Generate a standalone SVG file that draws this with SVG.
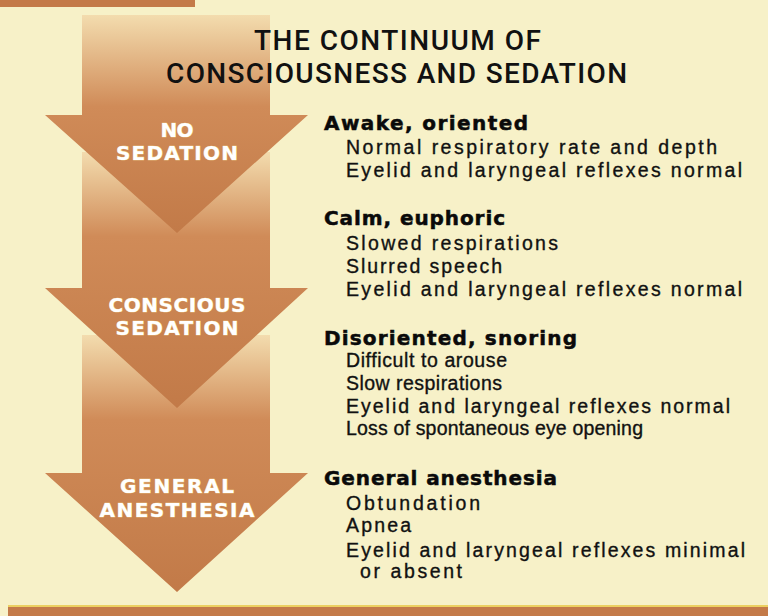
<svg xmlns="http://www.w3.org/2000/svg" width="768" height="616" viewBox="0 0 768 616">
<style>
.title{font-family:Roboto,"Liberation Sans",sans-serif;font-size:28px;font-weight:500;fill:#111;}
.lab{font-family:"DejaVu Sans","Liberation Sans",sans-serif;font-size:20px;font-weight:bold;fill:#fff;text-anchor:middle;stroke:#f0dc98;stroke-width:0.7;paint-order:stroke;}
.hd{font-family:"DejaVu Sans","Liberation Sans",sans-serif;font-size:20px;font-weight:bold;fill:#0a0a0a;stroke:#0a0a0a;stroke-width:0.5;}
.it{font-family:"Liberation Sans","Arial",sans-serif;font-size:19.5px;font-weight:400;fill:#111;stroke:#111;stroke-width:0.35;}
</style>
<defs>
<linearGradient id="g1" gradientUnits="userSpaceOnUse" x1="0" y1="15" x2="0" y2="233">
<stop offset="0" stop-color="#f3dcae"/>
<stop offset="0.42" stop-color="#d08b58"/>
<stop offset="1" stop-color="#c27a48"/>
</linearGradient>
<linearGradient id="g2" gradientUnits="userSpaceOnUse" x1="0" y1="152" x2="0" y2="408">
<stop offset="0" stop-color="#f3dcae"/>
<stop offset="0.33" stop-color="#d08b58"/>
<stop offset="1" stop-color="#c27a48"/>
</linearGradient>
<linearGradient id="g3" gradientUnits="userSpaceOnUse" x1="0" y1="335" x2="0" y2="592">
<stop offset="0" stop-color="#f3dcae"/>
<stop offset="0.33" stop-color="#d08b58"/>
<stop offset="1" stop-color="#c27a48"/>
</linearGradient>
</defs>
<rect x="0" y="0" width="768" height="616" fill="#f7f1c8"/>
<rect x="0" y="0" width="195" height="7" fill="#c47a48"/>
<rect x="8" y="605" width="760" height="2" fill="#ecd060"/>
<rect x="8" y="607" width="760" height="9" fill="#c47a48"/>

<g id="connectors"></g>

<g id="arrow-general-anesthesia">
<polygon points="82,335 270,335 270,473 308,473 177,592 45,473 82,473" fill="url(#g3)"/>
<text class="lab" x="177" y="493" textLength="114" lengthAdjust="spacing">GENERAL</text>
<text class="lab" x="177" y="517" textLength="155" lengthAdjust="spacing">ANESTHESIA</text>
</g>
<g id="arrow-conscious-sedation">
<polygon points="82,152 270,152 270,288 308,288 177,408 45,288 82,288" fill="url(#g2)"/>
<text class="lab" x="177" y="312" textLength="137" lengthAdjust="spacing">CONSCIOUS</text>
<text class="lab" x="177" y="335" textLength="123" lengthAdjust="spacing">SEDATION</text>
</g>
<g id="arrow-no-sedation">
<polygon points="82,15 270,15 270,115 308,115 177,233 45,115 82,115" fill="url(#g1)"/>
<text class="lab" x="177" y="137" textLength="33" lengthAdjust="spacing">NO</text>
<text class="lab" x="177" y="160" textLength="122" lengthAdjust="spacing">SEDATION</text>
</g>

<g id="title">
<text class="title" x="254" y="50" textLength="287" lengthAdjust="spacing">THE CONTINUUM OF</text>
<text class="title" x="166" y="83" textLength="461" lengthAdjust="spacing">CONSCIOUSNESS AND SEDATION</text>
</g>

<g id="state-awake">
<text class="hd" x="324" y="130" textLength="204" lengthAdjust="spacing">Awake, oriented</text>
<text class="it" x="346" y="154" textLength="371" lengthAdjust="spacing">Normal respiratory rate and depth</text>
<text class="it" x="346" y="177" textLength="396" lengthAdjust="spacing">Eyelid and laryngeal reflexes normal</text>
</g>
<g id="state-calm">
<text class="hd" x="324" y="225" textLength="181" lengthAdjust="spacing">Calm, euphoric</text>
<text class="it" x="346" y="250" textLength="212" lengthAdjust="spacing">Slowed respirations</text>
<text class="it" x="346" y="273" textLength="156" lengthAdjust="spacing">Slurred speech</text>
<text class="it" x="346" y="296" textLength="396" lengthAdjust="spacing">Eyelid and laryngeal reflexes normal</text>
</g>
<g id="state-disoriented">
<text class="hd" x="324" y="345" textLength="253" lengthAdjust="spacing">Disoriented, snoring</text>
<text class="it" x="346" y="367" textLength="161" lengthAdjust="spacing">Difficult to arouse</text>
<text class="it" x="346" y="390" textLength="156" lengthAdjust="spacing">Slow respirations</text>
<text class="it" x="346" y="413" textLength="384" lengthAdjust="spacing">Eyelid and laryngeal reflexes normal</text>
<text class="it" x="346" y="435" textLength="297" lengthAdjust="spacing">Loss of spontaneous eye opening</text>
</g>
<g id="state-general">
<text class="hd" x="324" y="485" textLength="233" lengthAdjust="spacing">General anesthesia</text>
<text class="it" x="346" y="510" textLength="134" lengthAdjust="spacing">Obtundation</text>
<text class="it" x="346" y="532" textLength="65" lengthAdjust="spacing">Apnea</text>
<text class="it" x="346" y="557" textLength="399" lengthAdjust="spacing">Eyelid and laryngeal reflexes minimal</text>
<text class="it" x="360" y="578" textLength="102" lengthAdjust="spacing">or absent</text>
</g>
</svg>
